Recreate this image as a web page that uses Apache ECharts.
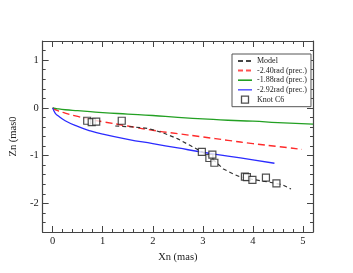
<!DOCTYPE html>
<html>
<head>
<meta charset="utf-8">
<script src="https://cdn.jsdelivr.net/npm/echarts@6/dist/echarts.min.js"></script>
<style>html,body{margin:0;padding:0;background:#fff;}#c{width:353px;height:273px;}</style>
</head>
<body>
<div id="c"></div>
<script>
// ---- data ----
var xTickLabels = [0, 1, 2, 3, 4, 5];
var yTickLabels = [-2, -1, 0, 1];

var modelX = [1.25, 1.6, 1.9, 2.2, 2.5, 2.75, 3.0, 3.2, 3.41, 3.6, 3.73, 4.0, 4.3, 4.59, 4.76];
var modelZ = [-0.38, -0.40, -0.43, -0.52, -0.65, -0.79, -0.93, -1.08, -1.28, -1.38, -1.44, -1.50, -1.55, -1.61, -1.70];

var redX = [0, 0.1, 0.25, 0.5, 0.75, 1, 1.5, 2, 2.5, 3, 3.5, 4, 4.5, 4.98];
var redZ = [0, -0.06, -0.11, -0.18, -0.24, -0.29, -0.38, -0.47, -0.54, -0.61, -0.68, -0.75, -0.81, -0.87];

var greenX = [0, 0.1, 0.25, 0.5, 0.75, 1, 1.5, 2, 2.5, 3, 3.5, 4, 4.5, 5.2];
var greenZ = [0, -0.02, -0.04, -0.06, -0.08, -0.10, -0.13, -0.16, -0.20, -0.23, -0.26, -0.28, -0.31, -0.34];

var blueX = [0, 0.05, 0.1, 0.25, 0.5, 0.75, 1, 1.5, 2, 2.5, 3, 3.5, 4, 4.43];
var blueZ = [0, -0.11, -0.16, -0.27, -0.39, -0.48, -0.55, -0.66, -0.75, -0.84, -0.93, -1.01, -1.09, -1.16];

var knotX = [0.69, 0.78, 0.87, 1.38, 2.98, 3.13, 3.19, 3.23, 3.84, 3.88, 3.99, 4.26, 4.47];
var knotZ = [-0.27, -0.30, -0.29, -0.27, -0.92, -1.05, -0.98, -1.15, -1.44, -1.45, -1.51, -1.46, -1.58];

// ---- helpers ----
function zip(a, b) { return a.map(function (v, i) { return [v, b[i]]; }); }
var X_MIN = -0.2, X_MAX = 5.2, Y_MIN = -2.6, Y_MAX = 1.4;
function minorTicks(lo, hi, step) {
  var out = [];
  for (var k = Math.round(lo / step); k * step <= hi + 1e-9; k++) out.push(Math.round(k * step * 100) / 100);
  return out;
}
var xMinor = minorTicks(X_MIN, X_MAX, 0.2);
var yMinor = minorTicks(Y_MIN, Y_MAX, 0.2);

var FONT = 'Liberation Serif';
var AX = '#444';

function mkAxis(pos, lo, hi, ticks, len, withLine, labels, extra) {
  var o = {
    type: 'value', position: pos, min: lo, max: hi,
    axisLine: { show: withLine, onZero: false, lineStyle: { color: AX, width: 1.2 } },
    axisTick: { show: true, inside: true, length: len, customValues: ticks, lineStyle: { color: AX, width: 1 } },
    axisLabel: labels ? { show: true, customValues: labels, color: '#222', fontFamily: FONT, fontSize: 10.5, margin: 4 } : { show: false },
    splitLine: { show: false }
  };
  for (var k in extra) o[k] = extra[k];
  return o;
}

// legend glyphs (shape only)
var ICON_DASH = 'path://M0,0H5V2H0Z M8,0H13V2H8Z M14,0H14.01V2H14Z';
var ICON_SOLID = 'path://M0,0H14V1.6H0Z';
var ICON_SQUARE = 'path://M0,0H8V8H0Z';

var chart = echarts.init(document.getElementById('c'), null, { renderer: 'canvas' });
chart.setOption({
  backgroundColor: '#fff',
  animation: false,
  grid: { left: 41, right: 40, top: 41, bottom: 41 },
  xAxis: [
    mkAxis('bottom', X_MIN, X_MAX, xMinor, 3, true, null, {}),
    mkAxis('bottom', X_MIN, X_MAX, xTickLabels, 6, false, xTickLabels, {
      name: 'Xn (mas)', nameLocation: 'middle', nameGap: 14,
      nameTextStyle: { fontFamily: FONT, fontSize: 10.5, color: '#222' }
    }),
    mkAxis('top', X_MIN, X_MAX, xMinor, 3, true, null, {}),
    mkAxis('top', X_MIN, X_MAX, xTickLabels, 6, false, null, {})
  ],
  yAxis: [
    mkAxis('left', Y_MIN, Y_MAX, yMinor, 3, true, null, {}),
    mkAxis('left', Y_MIN, Y_MAX, yTickLabels, 6, false, yTickLabels, {
      name: 'Zn (mas0', nameLocation: 'middle', nameGap: 22,
      nameTextStyle: { fontFamily: FONT, fontSize: 10.5, color: '#222' }
    }),
    mkAxis('right', Y_MIN, Y_MAX, yMinor, 3, true, null, {}),
    mkAxis('right', Y_MIN, Y_MAX, yTickLabels, 6, false, null, {})
  ],
  legend: {
    orient: 'vertical', left: 232, top: 54, width: 70,
    padding: [3, 4, 3, 6], itemGap: 1.6, itemWidth: 14, itemHeight: 7,
    backgroundColor: '#fff', borderColor: '#555', borderWidth: 1,
    textStyle: { fontFamily: FONT, fontSize: 8, color: '#222' },
    data: [
      { name: 'Model', icon: ICON_DASH, itemStyle: { color: '#444', borderWidth: 0 } },
      { name: '-2.40rad (prec.)', icon: ICON_DASH, itemStyle: { color: '#ff5050', borderWidth: 0 } },
      { name: '-1.88rad (prec.)', icon: ICON_SOLID, itemStyle: { color: '#23a023', borderWidth: 0 } },
      { name: '-2.92rad (prec.)', icon: ICON_SOLID, itemStyle: { color: '#6060ff', borderWidth: 0 } },
      { name: 'Knot C6', icon: ICON_SQUARE, itemStyle: { color: '#fff', borderColor: '#222', borderWidth: 1.3 } }
    ]
  },
  series: [
    { name: 'Model', type: 'line', data: zip(modelX, modelZ), symbol: 'none', smooth: false,
      lineStyle: { color: '#333', width: 1.2, type: [4, 3] }, itemStyle: { color: '#333' }, z: 3 },
    { name: '-2.40rad (prec.)', type: 'line', data: zip(redX, redZ), symbol: 'none', smooth: true,
      lineStyle: { color: '#ff2a2a', width: 1.4, type: [7, 4] }, itemStyle: { color: '#ff2a2a' }, z: 2 },
    { name: '-1.88rad (prec.)', type: 'line', data: zip(greenX, greenZ), symbol: 'none', smooth: true,
      lineStyle: { color: '#23a023', width: 1.3 }, itemStyle: { color: '#23a023' }, z: 2 },
    { name: '-2.92rad (prec.)', type: 'line', data: zip(blueX, blueZ), symbol: 'none', smooth: true,
      lineStyle: { color: '#2b2bff', width: 1.3 }, itemStyle: { color: '#2b2bff' }, z: 2 },
    { name: 'Knot C6', type: 'scatter', data: zip(knotX, knotZ), symbol: 'rect', symbolSize: 7,
      itemStyle: { color: '#fff', borderColor: '#222', borderWidth: 1.2 }, z: 4 }
  ]
});
</script>
</body>
</html>
